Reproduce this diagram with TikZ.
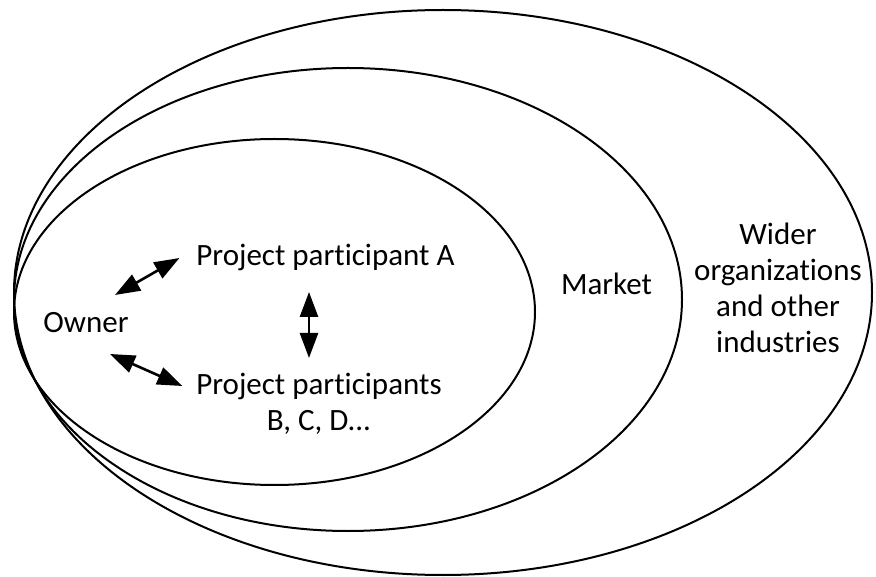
\documentclass[tikz,border=0pt]{standalone}
\usepackage{fontspec}
\setmainfont{Carlito}[RawFeature=-liga]
\usetikzlibrary{arrows.meta,calc}

\begin{document}
\begin{tikzpicture}[x=1pt, y=-1pt, line width=2pt,
    lbl/.style={inner sep=0pt, anchor=base, font=\fontsize{31}{36}\selectfont},
    biarrow/.style={{Triangle[length=25pt,width=18pt]}-{Triangle[length=25pt,width=18pt]}, line width=2.6pt}]
        \useasboundingbox (0,0) rectangle (876,577);

        % the three circles
        \draw (443,292.5) ellipse [x radius=429, y radius=282.5];
        \draw (348,299.5) ellipse [x radius=334, y radius=231.5];
        \draw (274.5,312) ellipse [x radius=260.5, y radius=173];

        \node[lbl] (owner) at (86,333) {Owner};
        \node[lbl] (partA) at (325.5,266) {Project participant A};
        % base of a node with lines is its last line
        \node[lbl, align=center] (partBCD) at (319,431) {Project participants\\B, C, D...};
        \node[lbl] (market) at (606.5,295) {Market};
        \node[lbl, align=center] (wider) at (778,353) {Wider\\organizations\\and other\\industries};

        \draw[biarrow] ($(owner.base)+(29,-38)$) -- ($(partA.base west)+(-16,-8)$);
        \draw[biarrow] ($(owner.base)+(24,21)$) -- ($(partBCD.base west)+(-13,-45)$);
        \draw[biarrow] ($(partA.base)+(-16.5,26)$) -- ($(partBCD.base)+(-10,-73)$);

    \end{tikzpicture}
\end{document}
